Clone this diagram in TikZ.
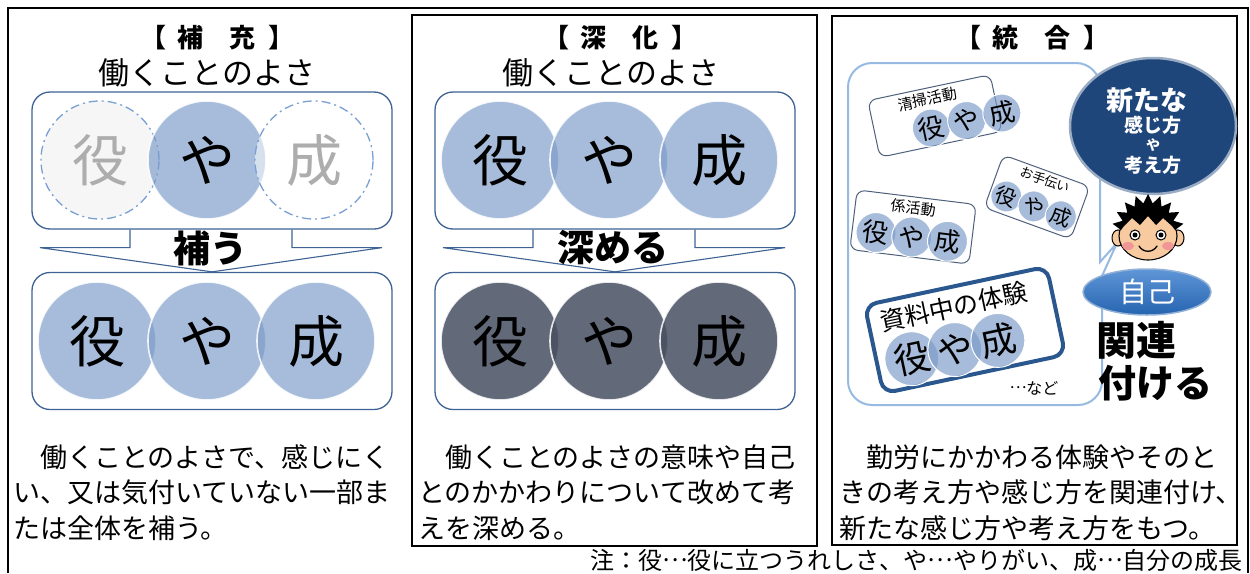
\documentclass[tikz,border=0pt]{standalone}
\usepackage{fontspec}
\setmainfont{Noto Sans CJK JP}
\usetikzlibrary{calc, positioning, shapes.geometric}

\definecolor{frameBlue}{RGB}{62,98,148}
\definecolor{circBlue}{RGB}{122,154,200}
\definecolor{circDark}{RGB}{72,80,98}
\definecolor{dashBlue}{RGB}{120,160,212}
\definecolor{bubbleBlue}{RGB}{150,186,226}
\definecolor{tagEdge}{RGB}{78,96,124}
\definecolor{deepEdge}{RGB}{42,88,142}
\definecolor{navyDeep}{RGB}{30,70,122}
\definecolor{selfBlue}{RGB}{38,100,176}
\definecolor{selfLight}{RGB}{95,150,215}
\definecolor{skinTone}{RGB}{248,202,160}
\definecolor{cheekPink}{RGB}{240,150,150}

\newcommand{\fs}[1]{\fontsize{#1}{#1}\selectfont}
% centred ellipsis, as set in Japanese text
\newcommand{\tenten}{\raisebox{.33em}{…}}

\begin{document}
\begin{tikzpicture}[
    x=1pt, y=-1pt,
    panel/.style={draw=black, line width=2.4pt, inner sep=0pt},
    slot/.style={draw=frameBlue, line width=1.3pt, rounded corners=18pt,
                 minimum width=360pt, minimum height=137pt, inner sep=0pt},
    disc/.style={circle, minimum size=118pt, inner sep=0pt,
                 fill=circBlue, fill opacity=.66, text opacity=1,
                 draw=white, draw opacity=.85, line width=1.6pt, font=\fs{56}},
    ghost/.style={fill=white, dash pattern=on 9pt off 4pt on 2pt off 4pt,
                  draw=dashBlue, draw opacity=1, line width=1.3pt, text=black!32},
    funnel/.style={draw=frameBlue, line width=1.1pt},
    head/.style={font=\bfseries\fs{26}},
    sub/.style={font=\fs{31}},
    verb/.style={font=\bfseries\fs{37}},
    body/.style={font=\fs{27}, inner sep=0pt, anchor=base west},
    tag/.style={draw=tagEdge, line width=1pt, fill=white,
                rounded corners=8pt, inner sep=0pt},
    minidisc/.style={fill=circBlue, fill opacity=.66, draw=white, line width=1pt},
    glyph/.style={inner sep=0pt}
]
\useasboundingbox (0,0) rectangle (1250,573);

% outer frame, open at the bottom
\draw[line width=2.4pt] (8,573) |- (1248,8) -- (1248,573);
\node[panel, minimum width=405pt, minimum height=531pt] (pFuka) at (614.5,280.5) {};
\node[panel, minimum width=405pt, minimum height=529pt] (pTogo) at (1034.5,280.5) {};

%% ---- hoju (left) ----
\node[head] (hoHead) at (217,38) {【\hspace{12pt}補\hspace{26pt}充\hspace{12pt}】};
\node[sub] (hoSub) at (207,73) {働くことのよさ};
\node[slot] (hoTop) at (212,160.5) {};
\node[disc, ghost, fill=black!5] (hoA) at (100,160) {役};
\node[disc, text=black] (hoB) at (207,160) {や};
\node[disc, ghost, fill opacity=.55] (hoC) at (314,160) {成};
\node[slot] (hoBot) at (212,341) {};
\foreach \ch/\px [count=\i] in {役/97,や/207,成/316}
  \node[disc] (hoD\i) at (\px,341) {\ch};
\draw[funnel] ($(hoTop.south)+(-82,0)$) -- ++(0,18) -- ++(-90,0)
  -- (hoBot.north) -- ($(hoTop.south)+(170,18)$) -- ++(-90,0) -- ++(0,-18);
\node[verb] (hoVerb) at (210,248) {補う};
\foreach \txt [count=\i] in {{　働くことのよさで、感じにく},
                             {い、又は気付いていない一部ま},{たは全体を補う。}}
  \node[body] (hoText\i) at (13,{431.5+35.5*\i}) {\txt};

%% ---- shinka (middle) ----
\node[head] (fuHead) at (620,38) {【\hspace{12pt}深\hspace{26pt}化\hspace{12pt}】};
\node[sub] (fuSub) at (611,73) {働くことのよさ};
\node[slot] (fuTop) at (615,160.5) {};
\foreach \ch/\px [count=\i] in {役/500,や/609,成/719}
  \node[disc] (fuA\i) at (\px,160) {\ch};
\node[slot] (fuBot) at (615,341) {};
\foreach \ch/\px [count=\i] in {役/500,や/609,成/719}
  \node[disc, fill=circDark, fill opacity=.86] (fuB\i) at (\px,341) {\ch};
\draw[funnel] ($(fuTop.south)+(-82,0)$) -- ++(0,18) -- ++(-90,0)
  -- (fuBot.north) -- ($(fuTop.south)+(170,18)$) -- ++(-90,0) -- ++(0,-18);
\node[verb] (fuVerb) at (613,248) {深める};
\foreach \txt [count=\i] in {{　働くことのよさの意味や自己},
                             {とのかかわりについて改めて考},{えを深める。}}
  \node[body] (fuText\i) at (418,{431.5+35.5*\i}) {\txt};

%% ---- togo (right) ----
\node[head] (toHead) at (1032,38) {【\hspace{12pt}統\hspace{26pt}合\hspace{12pt}】};

% speech bubble with its tail towards the boy
\draw[draw=bubbleBlue, line width=2pt, fill=white]
  (1100,262) -- (1117,243) -- (1102,276) -- (1102,290)
  [rounded corners=24pt] -- (1102,405) -- (848,405) -- (848,63) -- (1100,63)
  -- (1100,150) [sharp corners] -- cycle;

% cleaning
\begin{scope}[shift={(935,116)}, rotate=12, transform shape]
  \node[tag, minimum width=125pt, minimum height=58pt] (seiso) at (0,0) {};
  \node[glyph, font=\fs{15}] (seisoName) at (-4,-18) {清掃活動};
  \foreach \ch [count=\i] in {役,や,成} {
    \draw[minidisc] ({-42+36*\i},11) circle [radius=19];
    \node[glyph, font=\fs{26}] (seiso\i) at ({-42+36*\i},11) {\ch};
  }
\end{scope}
% helping at home
\begin{scope}[shift={(1037,197)}, rotate=-20, transform shape]
  \node[tag, minimum width=92pt, minimum height=56pt] (otetsu) at (0,0) {};
  \node[glyph, font=\fs{13}] (otetsuName) at (2,-19) {お手伝い};
  \foreach \ch [count=\i] in {役,や,成} {
    \draw[minidisc] ({-58+29*\i},10) circle [radius=15.5];
    \node[glyph, font=\fs{21}] (otetsu\i) at ({-58+29*\i},10) {\ch};
  }
\end{scope}
% class duties
\begin{scope}[shift={(913,227)}, rotate=-7, transform shape]
  \node[tag, minimum width=120pt, minimum height=60pt] (kakari) at (0,0) {};
  \node[glyph, font=\fs{15}] (kakariName) at (-2,-19) {係活動};
  \foreach \ch [count=\i] in {役,や,成} {
    \draw[minidisc] ({-72+36*\i},10) circle [radius=20];
    \node[glyph, font=\fs{26}] (kakari\i) at ({-72+36*\i},10) {\ch};
  }
\end{scope}
% reading material
\begin{scope}[shift={(965,330)}, rotate=12, transform shape]
  \node[tag, draw=deepEdge, line width=4pt, rounded corners=12pt,
        minimum width=186pt, minimum height=90pt] (shiryo) at (0,0) {};
  \node[glyph, font=\fs{25}] (shiryoName) at (-6,-25) {資料中の体験};
  \foreach \ch [count=\i] in {役,や,成} {
    \draw[minidisc] ({-102+44*\i},17) circle [radius=27];
    \node[glyph, font=\fs{36}] (shiryo\i) at ({-102+44*\i},17) {\ch};
  }
\end{scope}
\node[glyph, font=\fs{16}] (nado) at (1034,388) {\tenten など};

% new way of feeling and thinking
\node[ellipse, minimum width=166pt, minimum height=136pt, fill=navyDeep,
      draw=white!55!navyDeep, line width=2.5pt] (arata) at (1153,126) {};
\node[glyph, font=\bfseries\fs{27}, text=white] (arata1) at (1147,100) {新たな};
\node[glyph, font=\bfseries\fs{19}, text=white] (arata2) at (1153,125) {感じ方};
\node[glyph, font=\bfseries\fs{14}, text=white] (arata3) at (1153,145) {や};
\node[glyph, font=\bfseries\fs{19}, text=white] (arata4) at (1153,165) {考え方};

% the boy
\coordinate (boyHead) at (1148,230);
\foreach \ex in {1118,1178}
  \draw[fill=skinTone, line width=1pt] (\ex,238) ellipse [x radius=6, y radius=8];
\draw[fill=skinTone, line width=1.1pt] (1148,236) ellipse [x radius=29, y radius=24];
\fill[black] ($(boyHead)+(180:27)$)
  \foreach \ang in {180,200,...,340} { -- ($(boyHead)+(\ang:27)$) -- ($(boyHead)+({\ang+10}:36)$) }
  -- ($(boyHead)+(360:27)$) -- (1172,226) -- (1163,218) -- (1156,225) -- (1148,216)
  -- (1140,225) -- (1132,218) -- (1124,226) -- cycle;
\foreach \cx in {1128,1168}
  \fill[cheekPink] (\cx,246) ellipse [x radius=6, y radius=4];
\foreach \ex in {1135,1161} {
  \draw[fill=white, line width=1pt] (\ex,235) ellipse [x radius=5, y radius=5];
  \fill[black] (\ex,235) circle [radius=2.5];
}
\draw[line width=1.3pt, line cap=round] (1139,246) .. controls (1143,253) and (1153,253) .. (1157,246);

% self
\node[ellipse, minimum width=128pt, minimum height=46pt, top color=selfLight,
      bottom color=selfBlue, draw=white!50!selfBlue, line width=1.5pt,
      text=white, font=\fs{28}] (jiko) at (1147,292) {自己};
\node[anchor=west, font=\bfseries\fs{40}] (kanren) at (1093,340) {関連};
\node[anchor=west, font=\bfseries\fs{38}] (tsukeru) at (1095,383) {付ける};

\foreach \txt [count=\i] in {{　勤労にかかわる体験やそのと},
                             {きの考え方や感じ方を関連付け、},{新たな感じ方や考え方をもつ。}}
  \node[body] (toText\i) at (839,{431.5+35.5*\i}) {\txt};

% key to the abbreviations
\node[font=\fs{24}, anchor=east, inner sep=0pt] (note) at (1243,560)
  {注：役\tenten 役に立つうれしさ、や\tenten やりがい、成\tenten 自分の成長};

\end{tikzpicture}
\end{document}
